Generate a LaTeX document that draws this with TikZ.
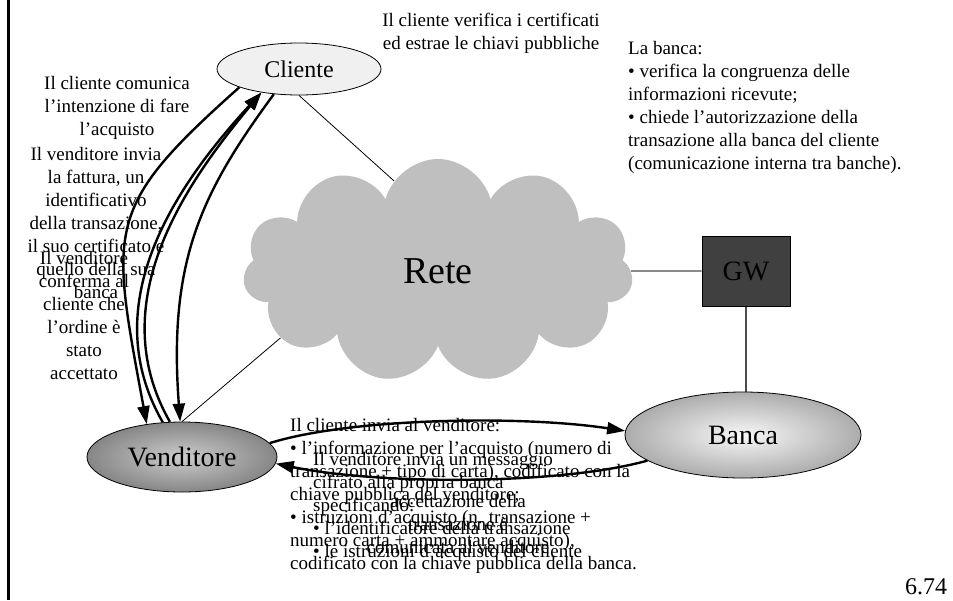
\documentclass[tikz,border=0pt]{standalone}
\usepackage{fontspec}
\setmainfont{Liberation Serif}
\usetikzlibrary{shapes.geometric,shapes.symbols,arrows.meta}
\pgfdeclarelayer{bg}
\pgfsetlayers{bg,main}

\begin{document}
\begin{tikzpicture}[x=1pt,y=-1pt,
        ell/.style={ellipse, draw, line width=0.8pt, inner sep=0pt},
        txt/.style={inner sep=0pt, font=\fontsize{19}{23}\selectfont},
        arr/.style={line width=2.4pt, -{Triangle[length=18pt,width=12pt]}},
        ln/.style={line width=0.8pt},
        gln/.style={line width=1.3pt, black!70}]
    \useasboundingbox (0,0) rectangle (953,600);
    \draw[line width=3pt] (8.5,0) -- (8.5,600);

    \node[cloud, cloud puffs=11, aspect=1.7, fill=gray!50,
          minimum width=390, minimum height=224,
          font=\fontsize{38}{40}\selectfont] (rete) at (438,271) {Rete};
    \node[ell, fill=gray!12, minimum width=164, minimum height=52,
          font=\fontsize{24}{26}\selectfont] (cliente) at (299,69) {Cliente};
    \node[ell, minimum width=190, minimum height=70, outer color=gray!95,
          inner color=gray!40, font=\fontsize{28}{30}\selectfont]
          (vend) at (182,457) {Venditore};
    \node[ell, minimum width=236, minimum height=86, outer color=gray!65,
          inner color=gray!6, font=\fontsize{28}{30}\selectfont]
          (banca) at (743,435) {Banca};
    \node[draw, line width=0.8pt, fill=black!75, minimum width=88,
          minimum height=70, font=\fontsize{28}{30}\selectfont]
          (gw) at (746,271) {GW};

    \begin{pgfonlayer}{bg}
        \draw[ln] (cliente.south) -- (rete.116);
        \draw[ln] (vend.north) -- (rete.203);
        \draw[gln] (rete.east) -- (gw.west);
        \draw[gln] (gw.south) -- (gw.south |- banca.center);
    \end{pgfonlayer}

    % cliente <-> venditore
    \draw[arr] (cliente.197) .. controls (104,208) and (110,226) .. (vend.137);
    \draw[arr] (vend.119) .. controls (93,301) and (180,181) .. (cliente.212);
    \draw[arr] (vend.109) .. controls (101,301) and (188,181) .. (cliente.212);
    \draw[arr] (cliente.225) .. controls (202,192) and (168,260) .. (vend.93);
    % venditore <-> banca
    \draw[arr] (vend.9) .. controls (350,418) and (520,415) .. (banca.178);
    \draw[arr] (banca.195) .. controls (560,485) and (380,485) .. (vend.-4);

    \node[txt, align=center] (verif) at (491,33)
        {Il cliente verifica i certificati\\ed estrae le chiavi pubbliche};
    \node[txt, align=left, anchor=west] (bancatxt) at (628,107)
        {La banca:\\• verifica la congruenza delle\\informazioni ricevute;\\• chiede l’autorizzazione della\\transazione alla banca del cliente\\(comunicazione interna tra banche).};
    \node[txt, align=center] (comunica) at (117,108)
        {Il cliente comunica\\l’intenzione di fare\\l’acquisto};
    \node[txt, align=center] (fattura) at (96,223)
        {Il venditore invia\\la fattura, un\\identificativo\\della transazione,\\il suo certificato e\\quello della sua\\banca};
    \node[txt, align=center] (conferma) at (84,315)
        {Il venditore\\conferma al\\cliente che\\l’ordine è\\stato\\accettato};
    \node[txt, align=left, anchor=west] (invia) at (290,496)
        {Il cliente invia al venditore:\\• l’informazione per l’acquisto (numero di\\transazione + tipo di carta), codificato con la\\chiave pubblica del venditore;\\• istruzioni d’acquisto (n. transazione +\\numero carta + ammontare acquisto),\\codificato con la chiave pubblica della banca.};
    \node[txt, align=left, anchor=west] (messaggio) at (313,507)
        {Il venditore invia un messaggio\\cifrato alla propria banca\\specificando:\\• l’identificatore della transazione\\• le istruzioni d’acquisto del cliente};
    \node[txt, align=center] (accetta) at (458,524)
        {accettazione della\\transazione è\\comunicata al venditore};
    \node[inner sep=0pt, font=\fontsize{24}{26}\selectfont] (pag) at (926,587) {6.74};
\end{tikzpicture}
\end{document}
